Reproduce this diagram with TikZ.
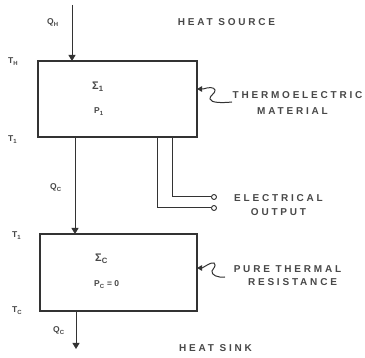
\documentclass[tikz,border=0pt]{standalone}
\usepackage{fontspec}
\setmainfont{Liberation Sans}
\newfontfamily\spaced[LetterSpace=28]{Liberation Sans}
\usetikzlibrary{arrows.meta}
\definecolor{ink}{HTML}{333333}
\definecolor{txt}{HTML}{484848}
\begin{document}
\begin{tikzpicture}[x=1pt,y=-1pt,
  box/.style={draw=ink, line width=1.2pt, inner sep=0pt, outer sep=0pt},
  big/.style={font=\spaced\bfseries\fontsize{10}{12}\selectfont, text=txt, inner sep=0pt},
  sm/.style={font=\bfseries\fontsize{8.5}{10}\selectfont, text=txt, inner sep=0pt, anchor=base west},
  sig/.style={font=\bfseries\fontsize{11}{12}\selectfont, text=txt, inner sep=0pt, anchor=base west},
  arr/.style={draw=ink, line width=1pt, -{Triangle[width=7pt,length=6pt]}},
  sq/.style={draw=ink, line width=1pt, -{Triangle[width=5.5pt,length=5pt]}},
  wire/.style={draw=ink, line width=1pt},
  term/.style={circle, draw=ink, line width=0.9pt, minimum size=5pt, inner sep=0pt}]
\useasboundingbox[fill=white] (0,0) rectangle (365,358);

% boxes
\node[box, minimum width=159pt, minimum height=76pt] (tb) at (117.5,99) {};
\node[box, minimum width=157pt, minimum height=77pt] (bb) at (118.5,272.5) {};

% heat flow arrows
\coordinate (qh) at (72,5);
\draw[arr] (qh) -- (qh |- tb.north);
\coordinate (qc) at (75,0);
\draw[arr] (qc |- tb.south) -- (qc |- bb.north);
\coordinate (sink) at (76,349);
\draw[arr] (sink |- bb.south) -- (sink);

% electrical output
\node[term] (o1) at (214,197) {};
\node[term] (o2) at (214,208) {};
\coordinate (w1) at (172,0);
\coordinate (w2) at (157,0);
\draw[wire] (w1 |- tb.south) |- (o1);
\draw[wire] (w2 |- tb.south) |- (o2);

% squiggle pointers
\coordinate (s1) at (232,102);
\coordinate (m1) at (0,89);
\draw[sq] (s1) .. controls (222,103) and (211,103) .. (210,99)
  .. controls (209,96) and (216,93) .. (215,90)
  .. controls (214,87) and (209,87) .. (203,89) -- (tb.east |- m1);
\coordinate (s2) at (225,277);
\coordinate (m2) at (0,268);
\draw[sq] (s2) .. controls (218,278) and (211,275) .. (212,271)
  .. controls (213,268) and (217,266) .. (214,263)
  .. controls (211,262) and (206,266) .. (202,268) -- (bb.east |- m2);

% big labels
\node[big] (hs) at (226.5,22) {HEAT SOURCE};
\node[big] (tm1) at (297.5,95) {THERMOELECTRIC};
\node[big] (tm2) at (292.5,111) {MATERIAL};
\node[big] (eo1) at (278.5,198.5) {ELECTRICAL};
\node[big] (eo2) at (278.5,212.5) {OUTPUT};
\node[big] (pt1) at (287.5,269.5) {PURE THERMAL};
\node[big] (pt2) at (292.5,282) {RESISTANCE};
\node[big] (hk) at (215.5,348.5) {HEAT SINK};

% small labels
\node[sm] (lqh) at (47,25) {Q\textsubscript{H}};
\node[sm] (lth) at (8,64) {T\textsubscript{H}};
\node[sm] (lt1a) at (8,142) {T\textsubscript{1}};
\node[sm] (lqc1) at (50,190) {Q\textsubscript{C}};
\node[sm] (lt1b) at (12,238) {T\textsubscript{1}};
\node[sm] (ltc) at (12,313) {T\textsubscript{C}};
\node[sm] (lqc2) at (53,333) {Q\textsubscript{C}};
\node[sig] (s1l) at (92,90) {Σ\textsubscript{1}};
\node[sm] (p1l) at (94,114) {P\textsubscript{1}};
\node[sig] (scl) at (95,262) {Σ\textsubscript{C}};
\node[sm] (pcl) at (94,287) {P\textsubscript{C} = 0};
\end{tikzpicture}
\end{document}
